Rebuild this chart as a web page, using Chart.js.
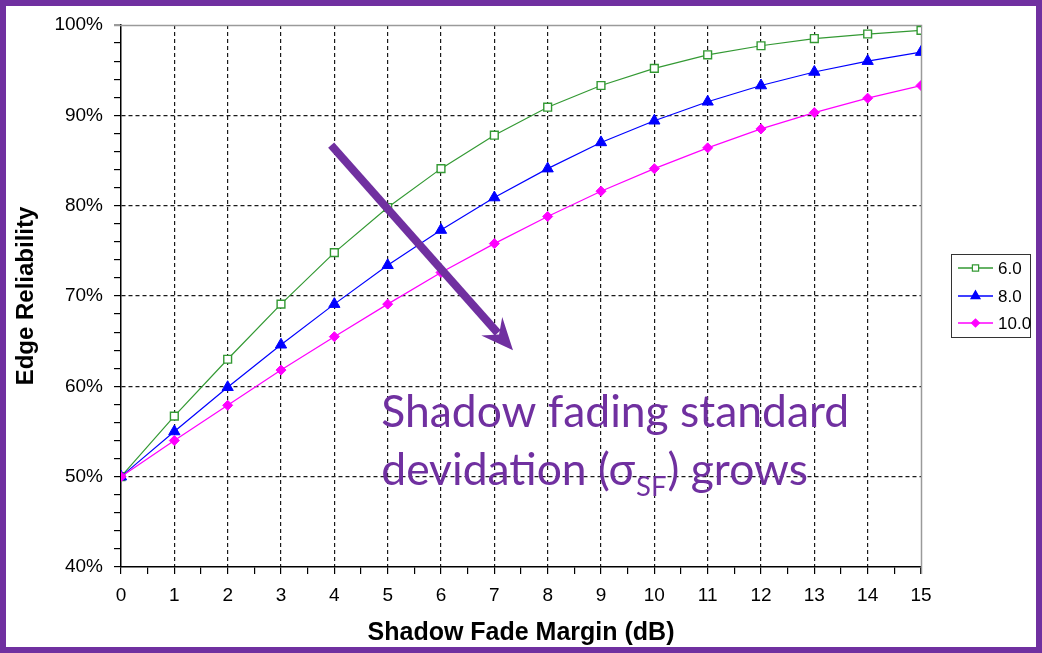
<!DOCTYPE html>
<html><head><meta charset="utf-8">
<script src="https://cdn.jsdelivr.net/npm/chart.js@4"></script>
<style>html,body{margin:0;padding:0;background:#fff}canvas{display:block}</style>
</head><body>
<canvas id="c" width="1042" height="653"></canvas>
<script>
// ---- data ----
const fadeMargins = [0,1,2,3,4,5,6,7,8,9,10,11,12,13,14,15];
const sigma6  = [50,56.7,63.0,69.1,74.8,79.8,84.1,87.8,90.9,93.3,95.2,96.7,97.7,98.5,99.0,99.4];
const sigma8  = [50,55.0,59.9,64.6,69.1,73.4,77.3,80.9,84.1,87.0,89.4,91.5,93.3,94.8,96.0,97.0];
const sigma10 = [50,54.0,57.9,61.8,65.5,69.1,72.6,75.8,78.8,81.6,84.1,86.4,88.5,90.3,91.9,93.3];
const seriesLabels = ['6.0','8.0','10.0'];
const yTickValues = [40,50,60,70,80,90,100];
const xTitle = 'Shadow Fade Margin (dB)';
const yTitle = 'Edge Reliability';
const noteLine1 = 'Shadow fading standard';
const noteLine2a = 'devidation (σ';
const noteSub = 'SF';
const noteLine2b = ') grows';
const arrowFrom = {x:3.94, y:86.7};
const arrowTo = {x:7.35, y:64.0};
const noteAnchor = {x:4.88, y:55.5};

const PURPLE = '#7030A0';
const FONT = "'Liberation Sans', Arial, sans-serif";

const pts = arr => fadeMargins.map((m,i)=>({x:m, y:arr[i]}));

const framePlugin = {
  id:'frame',
  beforeDatasetsDraw(chart){
    const {ctx, chartArea:a} = chart;
    ctx.save();
    ctx.strokeStyle = '#9a9a9a'; ctx.lineWidth = 1.5;
    ctx.beginPath();
    ctx.moveTo(a.left-7, a.top+0.5); ctx.lineTo(a.right+0.5, a.top+0.5);
    ctx.lineTo(a.right+0.5, a.bottom+7);
    ctx.stroke();
    ctx.restore();
  }
};

const notePlugin = {
  id:'note',
  afterDatasetsDraw(chart){
    const {ctx, scales:{x, y}} = chart;
    ctx.save();
    // arrow
    const x1 = x.getPixelForValue(arrowFrom.x), y1 = y.getPixelForValue(arrowFrom.y);
    const x2 = x.getPixelForValue(arrowTo.x), y2 = y.getPixelForValue(arrowTo.y);
    const dx = x2-x1, dy = y2-y1, L = Math.hypot(dx,dy);
    const ux = dx/L, uy = dy/L, nx = -uy, ny = ux;
    const headLen = 32, headW = 14, notch = 21;
    ctx.strokeStyle = PURPLE; ctx.fillStyle = PURPLE;
    ctx.lineWidth = 8; ctx.lineCap = 'butt';
    ctx.beginPath();
    ctx.moveTo(x1,y1);
    ctx.lineTo(x2-ux*(notch+2), y2-uy*(notch+2));
    ctx.stroke();
    ctx.beginPath();
    ctx.moveTo(x2,y2);
    ctx.lineTo(x2-ux*headLen+nx*headW, y2-uy*headLen+ny*headW);
    ctx.lineTo(x2-ux*notch, y2-uy*notch);
    ctx.lineTo(x2-ux*headLen-nx*headW, y2-uy*headLen-ny*headW);
    ctx.closePath();
    ctx.fill();
    // text
    const tx = x.getPixelForValue(noteAnchor.x), ty = y.getPixelForValue(noteAnchor.y);
    const fam = "Lato, 'Open Sans', sans-serif";
    ctx.font = `40px ${fam}`;
    const w40 = ctx.measureText(noteLine1).width;
    const fs = 40*468/w40;
    ctx.font = `${fs}px ${fam}`;
    ctx.textBaseline = 'alphabetic'; ctx.textAlign = 'left';
    ctx.fillText(noteLine1, tx, ty);
    const ty2 = ty + 58;
    ctx.fillText(noteLine2a, tx, ty2);
    let cx = tx + ctx.measureText(noteLine2a).width;
    ctx.font = `${fs*0.62}px ${fam}`;
    ctx.fillText(noteSub, cx+1, ty2+11);
    cx += ctx.measureText(noteSub).width + 2;
    ctx.font = `${fs}px ${fam}`;
    ctx.fillText(noteLine2b, cx, ty2);
    ctx.restore();
  }
};

const legendPlugin = {
  id:'customLegend',
  afterDraw(chart){
    const {ctx} = chart;
    ctx.save();
    ctx.strokeStyle = '#333'; ctx.lineWidth = 1;
    ctx.strokeRect(951.5, 254.5, 79, 83);
    const rows = [268, 296, 323];
    chart.data.datasets.forEach((ds,i)=>{
      const yy = rows[i];
      ctx.strokeStyle = ds.borderColor; ctx.lineWidth = 1.3;
      ctx.beginPath(); ctx.moveTo(958, yy); ctx.lineTo(993, yy); ctx.stroke();
      ctx.fillStyle = ds.pointBackgroundColor; ctx.strokeStyle = ds.pointBorderColor;
      ctx.lineWidth = 1.2;
      Chart.helpers.drawPoint(ctx, {pointStyle: ds.pointStyle, radius: ds.pointRadius*0.8, borderWidth:1.2}, 975.5, yy);
      ctx.fillStyle = '#000'; ctx.font = `17px ${FONT}`;
      ctx.textBaseline = 'middle'; ctx.textAlign = 'left';
      ctx.fillText(ds.label, 998, yy+1);
    });
    // purple slide border
    ctx.strokeStyle = PURPLE; ctx.lineWidth = 6;
    ctx.strokeRect(3, 3, 1036, 647);
    ctx.restore();
  }
};

new Chart(document.getElementById('c'), {
  type:'line',
  data:{
    datasets:[
      {label:seriesLabels[0], data:pts(sigma6), borderColor:'#339933', borderWidth:1.2,
       pointStyle:'rect', pointRadius:5.5, pointBackgroundColor:'#ffffff', pointBorderColor:'#339933', pointBorderWidth:1.4, order:2},
      {label:seriesLabels[1], data:pts(sigma8), borderColor:'#0000ff', borderWidth:1.2,
       pointStyle:'triangle', pointRadius:6.5, pointBackgroundColor:'#0000ff', pointBorderColor:'#0000ff', pointBorderWidth:1, order:1},
      {label:seriesLabels[2], data:pts(sigma10), borderColor:'#ff00ff', borderWidth:1.2,
       pointStyle:'rectRot', pointRadius:5, pointBackgroundColor:'#ff00ff', pointBorderColor:'#ff00ff', pointBorderWidth:1, order:0}
    ]
  },
  options:{
    responsive:false, animation:false,
    layout:{padding:{top:25, right:121, left:0, bottom:0}},
    plugins:{legend:{display:false}, tooltip:{enabled:false}},
    elements:{line:{tension:0}},
    scales:{
      x:{type:'linear', min:0, max:15,
        afterFit(s){ s.height = 86; },
        ticks:{stepSize:0.5, autoSkip:false, maxRotation:0, color:'#000', padding:10,
          font:{family:FONT, size:19},
          callback:v => Number.isInteger(v) ? String(v) : ''},
        grid:{color:c => (c.tick && Number.isInteger(c.tick.value) && c.tick.value>0 && c.tick.value<15) ? '#1a1a1a' : 'rgba(0,0,0,0)',
          tickColor:'#000', tickLength:7, lineWidth:1.2},
        border:{display:true, color:'#000', width:1.5, dash:[4,3]},
        title:{display:true, text:xTitle, color:'#000', font:{family:FONT, size:25, weight:'bold'}, padding:{top:0,bottom:5}}
      },
      y:{min:40, max:100,
        afterFit(s){ s.width = 121; },
        ticks:{stepSize:2, autoSkip:false, color:'#000', padding:11,
          font:{family:FONT, size:19},
          callback:v => yTickValues.includes(v) ? v+'%' : ''},
        grid:{color:c => (c.tick && c.tick.value%10===0 && c.tick.value>40 && c.tick.value<100) ? '#1a1a1a' : 'rgba(0,0,0,0)',
          tickColor:c => (c.tick && c.tick.value===100) ? '#9a9a9a' : '#000', tickLength:7, lineWidth:1.2},
        border:{display:true, color:'#000', width:1.5, dash:[4,3]},
        title:{display:true, text:yTitle, color:'#000', font:{family:FONT, size:24, weight:'bold'}, padding:{top:12,bottom:0}}
      }
    }
  },
  plugins:[framePlugin, notePlugin, legendPlugin]
});
</script>
</body></html>
